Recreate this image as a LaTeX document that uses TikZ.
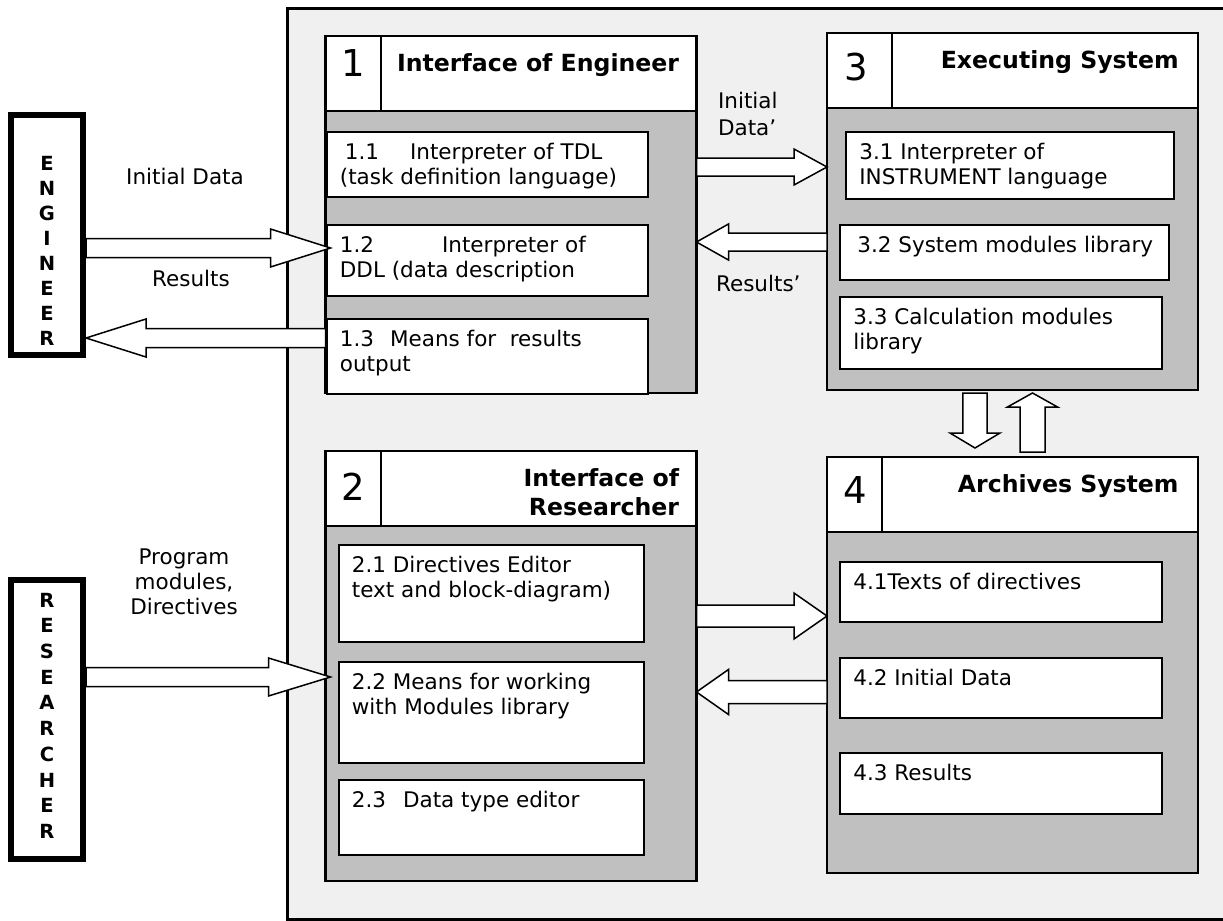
\documentclass[tikz,border=0pt]{standalone}
\usepackage{fontspec}
\setmainfont{DejaVu Sans}
\usetikzlibrary{calc,positioning}

\definecolor{panel}{HTML}{F0F0F0}
\definecolor{bodygray}{HTML}{C0C0C0}

\tikzset{
  sz/.style 2 args={minimum width=#1*0.5pt, minimum height=#2*0.5pt},
  hdr/.style={draw, fill=white, line width=1.25pt, inner sep=0pt, outer sep=0pt},
  body/.style={draw, fill=bodygray, line width=1.25pt, inner sep=0pt, outer sep=0pt},
  sub/.style={draw, fill=white, line width=1pt, inner sep=0pt, anchor=north west},
  txt/.style={anchor=north west, align=left, inner xsep=7pt, inner ysep=6pt,
    font=\fontsize{10.75pt}{12.5pt}\selectfont},
  num/.style={font=\fontsize{18.5pt}{20pt}\selectfont},
  title/.style={anchor=north east, align=right, inner sep=0pt,
    font=\fontsize{11.8pt}{14.5pt}\selectfont\bfseries},
  actor/.style={draw, line width=3pt, fill=white, inner sep=0pt},
  letter/.style={font=\fontsize{9.75pt}{10pt}\selectfont\bfseries},
  lbl/.style={align=center, font=\fontsize{10.75pt}{12.5pt}\selectfont},
  fat/.style={draw, fill=white, line width=0.75pt, line join=miter}
}

% outline arrow: from, to, shaft half width, head half width, head length
\newcommand{\fatarrow}[5]{%
  \coordinate (fa-h) at ($(#2)!#5!(#1)$);
  \draw[fat] ($(#1)!#3!90:(#2)$) -- ($(fa-h)!#3!90:(#2)$) -- ($(fa-h)!#4!90:(#2)$) -- (#2)
    -- ($(fa-h)!#4!-90:(#2)$) -- ($(fa-h)!#3!-90:(#2)$) -- ($(#1)!#3!-90:(#2)$) -- cycle;}

\begin{document}
\begin{tikzpicture}[x=0.5pt,y=-0.5pt]
  \useasboundingbox (0,0) rectangle (1223,921);
  \fill[white] (0,0) rectangle (1223,921);
  \draw[line width=1.5pt, fill=panel] (287,8) rectangle (1232,919);

  % actors
  \node[actor, sz={72}{240}] (eng) at (47,235) {};
  \foreach \l [count=\i] in {E,N,G,I,N,E,E,R}
    \node[letter] (e\i) at (47,{163+25*(\i-1)}) {\l};
  \node[actor, sz={72}{279}] (res) at (47,719.5) {};
  \foreach \l [count=\i] in {R,E,S,E,A,R,C,H,E,R}
    \node[letter] (r\i) at (47,{600+25.7*(\i-1)}) {\l};

  % 1 interface of engineer
  \node[hdr, sz={371}{75}] (h1) at (511,73.5) {};
  \node[body, sz={371}{282}, below=0pt of h1] (g1) {};
  \draw[line width=1.25pt] ([xshift=27.75pt]h1.north west) -- ([xshift=27.75pt]h1.south west);
  \node[num] (n1) at (353,63) {1};
  \node[title] (t1) at ($(h1.north east)+(-17,17)$) {Interface of Engineer};
  \node[sub, sz={321.5}{65}] (b11) at (325.5,131) {};
  \node[txt] (x11) at (b11.north west) {\hspace*{2.5pt}1.1\hspace{15.5pt}Interpreter of TDL\\(task definition language)};
  \node[sub, sz={321.5}{71}] (b12) at (325.5,224) {};
  \node[txt] (x12) at (b12.north west) {1.2\hspace{34pt}Interpreter of\\DDL (data description};
  \node[sub, sz={321.5}{75}] (b13) at (325.5,318) {};
  \node[txt] (x13) at (b13.north west) {1.3\hspace{8pt}Means for\hspace{6.8pt}results\\output};

  % 2 interface of researcher
  \node[hdr, sz={371}{75}] (h2) at (511,488.5) {};
  \node[body, sz={371}{355}, below=0pt of h2] (g2) {};
  \draw[line width=1.25pt] ([xshift=27.75pt]h2.north west) -- ([xshift=27.75pt]h2.south west);
  \node[num] (n2) at (353,487) {2};
  \node[title] (t2) at ($(h2.north east)+(-17,17)$) {Interface of\\Researcher};
  \node[sub, sz={305.5}{97}] (b21) at (337.5,544) {};
  \node[txt] (x21) at (b21.north west) {2.1 Directives Editor\\text and block-diagram)};
  \node[sub, sz={305.5}{101}] (b22) at (337.5,661) {};
  \node[txt] (x22) at (b22.north west) {2.2 Means for working\\with Modules library};
  \node[sub, sz={305.5}{75}] (b23) at (337.5,779) {};
  \node[txt] (x23) at (b23.north west) {2.3\hspace{8.5pt}Data type editor};

  % 3 executing system
  \node[hdr, sz={371}{75}] (h3) at (1012.5,70.5) {};
  \node[body, sz={371}{282}, below=0pt of h3] (g3) {};
  \draw[line width=1.25pt] ([xshift=32.5pt]h3.north west) -- ([xshift=32.5pt]h3.south west);
  \node[num] (n3) at (856,67) {3};
  \node[title] (t3) at ($(h3.north east)+(-19,17)$) {Executing System};
  \node[sub, sz={328}{67}] (b31) at (845,131) {};
  \node[txt] (x31) at (b31.north west) {3.1 Interpreter of\\INSTRUMENT language};
  \node[sub, sz={328.5}{55}] (b32) at (839,224) {};
  \node[txt] (x32) at (b32.north west) {\hspace*{2pt}3.2 System modules library};
  \node[sub, sz={322}{72}] (b33) at (839,296) {};
  \node[txt] (x33) at (b33.north west) {3.3 Calculation modules\\library};

  % 4 archives system
  \node[hdr, sz={371}{75}] (h4) at (1012.5,494.5) {};
  \node[body, sz={371}{341}, below=0pt of h4] (g4) {};
  \draw[line width=1.25pt] ([xshift=27.5pt]h4.north west) -- ([xshift=27.5pt]h4.south west);
  \node[num] (n4) at (855,490) {4};
  \node[title] (t4) at ($(h4.north east)+(-19,17)$) {Archives System};
  \node[sub, sz={322}{60}] (b41) at (839,561) {};
  \node[txt] (x41) at (b41.north west) {4.1Texts of directives};
  \node[sub, sz={322}{60}] (b42) at (839,657) {};
  \node[txt] (x42) at (b42.north west) {4.2 Initial Data};
  \node[sub, sz={322}{61}] (b43) at (839,752) {};
  \node[txt] (x43) at (b43.north west) {4.3 Results};

  % arrows
  \coordinate (a1) at (eng.east |- 0,248);
  \coordinate (a2) at ($(g1.west |- 0,248)+(5,0)$);
  \fatarrow{a1}{a2}{4.75pt}{9.5pt}{30pt}
  \coordinate (a3) at (b13.west |- 0,338);
  \coordinate (a4) at (eng.east |- 0,338);
  \fatarrow{a3}{a4}{4.75pt}{9.5pt}{30pt}
  \coordinate (a5) at (res.east |- 0,677);
  \coordinate (a6) at ($(g2.west |- 0,677)+(5,0)$);
  \fatarrow{a5}{a6}{4.75pt}{9.5pt}{31pt}
  \coordinate (a7) at (g1.east |- 0,167);
  \coordinate (a8) at (g3.west |- 0,167);
  \fatarrow{a7}{a8}{4.5pt}{9pt}{16.5pt}
  \coordinate (a9) at (g3.west |- 0,242);
  \coordinate (a10) at (g1.east |- 0,242);
  \fatarrow{a9}{a10}{4.5pt}{9pt}{16pt}
  \coordinate (a11) at (g2.east |- 0,616);
  \coordinate (a12) at (g4.west |- 0,616);
  \fatarrow{a11}{a12}{5.5pt}{11.5pt}{16.5pt}
  \coordinate (a13) at (g4.west |- 0,692);
  \coordinate (a14) at (g2.east |- 0,692);
  \fatarrow{a13}{a14}{5.75pt}{11.25pt}{16pt}
  \coordinate (a15) at ($(g3.south -| 975,0)+(0,3)$);
  \coordinate (a16) at ($(h4.north -| 975,0)+(0,-9)$);
  \fatarrow{a15}{a16}{6.1pt}{12.5pt}{7.5pt}
  \coordinate (a17) at ($(h4.north -| 1032.5,0)+(0,-5)$);
  \coordinate (a18) at ($(g3.south -| 1032.5,0)+(0,3)$);
  \fatarrow{a17}{a18}{6.25pt}{12.5pt}{7pt}

  % labels
  \node[lbl] (lid) at (185,176) {Initial Data};
  \node[lbl] (lres) at (191,278) {Results};
  \node[lbl, align=left, anchor=west, font=\fontsize{10.75pt}{13.5pt}\selectfont] (lid2) at (711,113.5) {Initial\\Data’};
  \node[lbl, anchor=west] (lres2) at (709,283) {Results’};
  \node[lbl] (lprog) at (184,582) {Program\\modules,\\Directives};
\end{tikzpicture}
\end{document}
